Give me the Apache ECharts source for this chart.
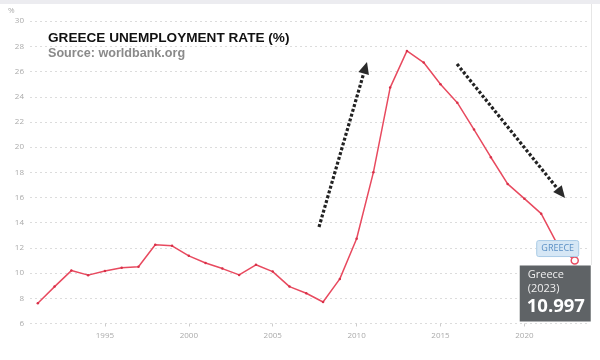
<!DOCTYPE html>
<html><head><meta charset="utf-8">
<script src="https://cdn.jsdelivr.net/npm/echarts@6/dist/echarts.min.js"></script>
<style>html,body{margin:0;padding:0;background:#fff}#c{width:600px;height:360px}</style>
</head><body><div id="c"></div>
<script>
const years = [1991,1992,1993,1994,1995,1996,1997,1998,1999,2000,2001,2002,2003,2004,2005,2006,2007,2008,2009,2010,2011,2012,2013,2014,2015,2016,2017,2018,2019,2020,2021,2022,2023];
const rates = [7.61,8.93,10.2,9.84,10.16,10.42,10.5,12.25,12.17,11.37,10.8,10.36,9.86,10.66,10.12,8.93,8.4,7.71,9.54,12.73,18.0,24.73,27.64,26.72,24.99,23.53,21.4,19.2,17.08,15.91,14.72,12.2,10.997];
const xTickYears = [1995,2000,2005,2010,2015,2020];
const titleText = 'GREECE UNEMPLOYMENT RATE (%)';
const subtitleText = 'Source: worldbank.org';
const countryName = 'Greece';
const lastYear = years[years.length-1];
const lastValue = rates[rates.length-1];

const lineColor = '#e84a5f';
const chart = echarts.init(document.getElementById('c'), null, {renderer:'canvas'});
const seriesData = years.map((y,i)=>{
  const item = {value:[y, rates[i]]};
  if (i === years.length-1) {
    item.symbol = 'circle'; item.symbolSize = 7;
    item.itemStyle = {color:'#fff', borderColor:lineColor, borderWidth:1.5};
  }
  return item;
});
chart.setOption({
  animation:false,
  grid:{left:30,right:10,top:21.2,bottom:36.5},
  xAxis:{type:'value',min:1990.535,max:2023.91,
    axisLine:{show:false},
    splitLine:{show:false},
    axisTick:{show:true,customValues:xTickYears,length:3,lineStyle:{color:'#ccc'}},
    axisLabel:{customValues:xTickYears,formatter:v=>String(v),color:'#aaa',fontSize:8,fontFamily:'Open Sans',margin:8}
  },
  yAxis:{type:'value',min:6,max:30,interval:2,
    axisLine:{show:false},axisTick:{show:false},
    axisLabel:{color:'#aaa',fontSize:8,fontFamily:'Open Sans',margin:6},
    splitLine:{lineStyle:{color:'#dcdcdc',type:[2,3],width:1}}
  },
  series:[{type:'line',data:seriesData,
    lineStyle:{color:lineColor,width:1.5},
    itemStyle:{color:'#d83048'},
    symbol:'circle',symbolSize:2.5,showSymbol:true,z:3}]
});

const p = chart.convertToPixel({xAxisIndex:0,yAxisIndex:0},[lastYear,lastValue]);
const px = p[0], py = p[1];

function arrow(x1,y1,x2,y2){
  const ang = Math.atan2(y2-y1,x2-x1);
  const L = 12, W = 5.5;
  const bx = x2 - L*Math.cos(ang), by = y2 - L*Math.sin(ang);
  const nx = -Math.sin(ang), ny = Math.cos(ang);
  return [
    {type:'line',shape:{x1:x1,y1:y1,x2:bx,y2:by},style:{stroke:'#222',lineWidth:3.2,lineDash:[3,2]},z:10},
    {type:'polygon',shape:{points:[[x2,y2],[bx+nx*W,by+ny*W],[bx-nx*W,by-ny*W]]},style:{fill:'#2a2a2a'},z:10}
  ];
}

chart.setOption({graphic:[
  {type:'rect',shape:{x:0,y:0,width:600,height:4},style:{fill:'#ececf0'},silent:true},
  {type:'line',shape:{x1:591.5,y1:4,x2:591.5,y2:265},style:{stroke:'#e6e6e6',lineWidth:1}},
  {type:'text',left:8,top:7,style:{text:'%',fill:'#aaa',fontSize:8,fontFamily:'Open Sans'}},
  {type:'text',left:48,top:31.5,style:{text:titleText,fill:'#111',fontSize:13.6,fontWeight:'bold',fontFamily:'Liberation Sans'},z:20},
  {type:'text',left:48,top:47.5,style:{text:subtitleText,fill:'#8a8a8a',fontSize:12.6,fontWeight:'bold',fontFamily:'Liberation Sans'},z:20},
  ...arrow(319,227,367,62),
  ...arrow(457,64,565,198),
  {type:'rect',shape:{x:px-38,y:py-20,width:42,height:16,r:2},style:{fill:'#d6e7f5',stroke:'#a9cbe6',lineWidth:1},z:20},
  {type:'text',x:px-17,y:py-12,style:{text:countryName.toUpperCase(),fill:'#5a8fc4',fontSize:9,fontFamily:'Open Sans',align:'center',verticalAlign:'middle'},z:21},
  {type:'rect',shape:{x:px-55,y:py+5,width:71,height:56},style:{fill:'#5f6366'},z:20},
  {type:'text',x:px-47,y:py+9,style:{text:countryName,fill:'#f0f0f0',fontSize:11,fontFamily:'Open Sans'},z:21},
  {type:'text',x:px-47,y:py+23,style:{text:'('+lastYear+')',fill:'#f0f0f0',fontSize:11,fontFamily:'Open Sans'},z:21},
  {type:'text',x:px-48,y:py+37,style:{text:String(lastValue),fill:'#fff',fontSize:18.5,fontWeight:'bold',fontFamily:'Open Sans'},z:21}
]});
</script></body></html>
